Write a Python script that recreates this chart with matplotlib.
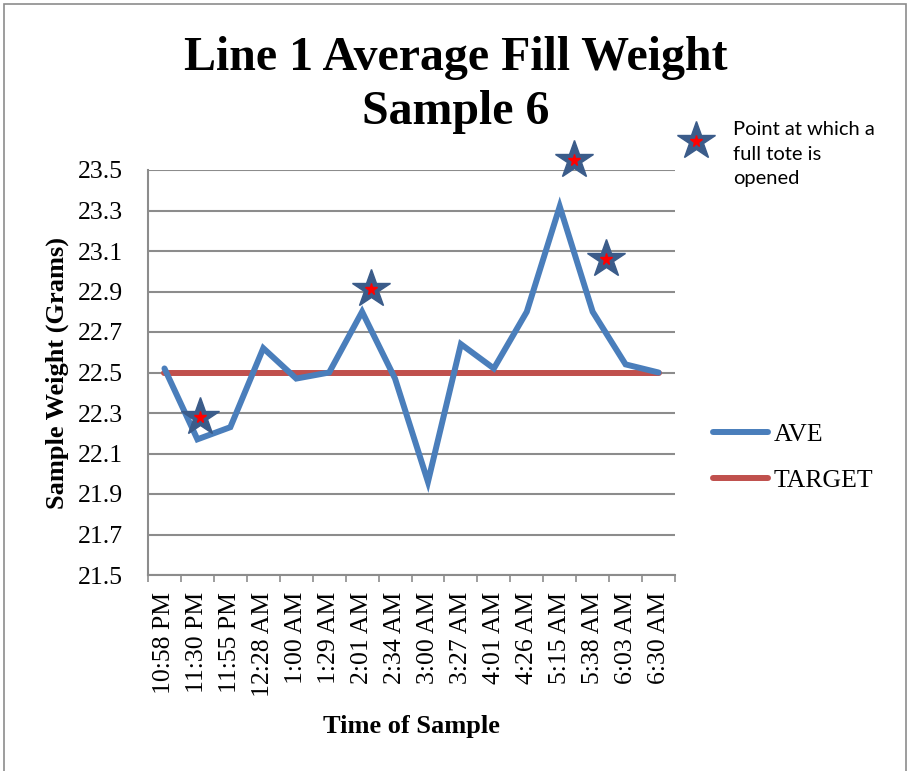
import matplotlib
matplotlib.use("Agg")
import matplotlib.pyplot as plt
from matplotlib.lines import Line2D
from matplotlib.patches import Rectangle

# ---- data ----
times = ["10:58 PM", "11:30 PM", "11:55 PM", "12:28 AM", "1:00 AM", "1:29 AM",
         "2:01 AM", "2:34 AM", "3:00 AM", "3:27 AM", "4:01 AM", "4:26 AM",
         "5:15 AM", "5:38 AM", "6:03 AM", "6:30 AM"]
ave = [22.52, 22.17, 22.23, 22.62, 22.47, 22.50, 22.80, 22.47, 21.96, 22.64,
       22.52, 22.80, 23.32, 22.80, 22.54, 22.50]
target = [22.5] * 16
# stars marking points at which a full tote is opened (category position, weight)
star_pos = [1.08, 6.26, 12.42, 13.39]
star_val = [22.28, 22.91, 23.55, 23.06]
y_ticks = [21.5, 21.7, 21.9, 22.1, 22.3, 22.5, 22.7, 22.9, 23.1, 23.3, 23.5]

W, H = 908, 771
fig = plt.figure(figsize=(W / 100, H / 100), dpi=100)
serif = ["Liberation Serif", "DejaVu Serif"]

# outer chart border
fig.add_artist(Rectangle((4 / W, -0.01), (906 - 4) / W, 1 - 4 / H + 0.01,
                         transform=fig.transFigure, fill=False,
                         edgecolor="#8c8c8c", linewidth=1.2))

ax = fig.add_axes([148 / W, (H - 575) / H, (675 - 148) / W, (575 - 170) / H])
x = list(range(len(times)))

ax.plot(x, ave, color="#4A7EBB", linewidth=4.3, solid_capstyle="round",
        solid_joinstyle="miter", label="AVE", zorder=3)
ax.plot(x, target, color="#C0504D", linewidth=4.3, solid_capstyle="round",
        label="TARGET", zorder=2)

ax.set_xlim(-0.5, len(times) - 0.5)
ax.set_ylim(21.5, 23.5)
ax.set_yticks(y_ticks)
ax.set_yticklabels([f"{v:.1f}" for v in y_ticks], fontsize=18.5, family=serif)
ax.set_xticks(x)
ax.set_xticklabels(times, rotation=90, fontsize=18.5, family=serif, va="top")
ax.set_xticks([i - 0.5 for i in range(len(times) + 1)], minor=True)
ax.tick_params(axis="x", which="major", length=0, pad=12)
ax.tick_params(axis="x", which="minor", length=5, width=1.2, color="#8c8c8c")
ax.tick_params(axis="y", length=0, pad=18)
ax.grid(axis="y", color="#8c8c8c", linewidth=1.5)
ax.set_axisbelow(True)
for s in ["top", "right"]:
    ax.spines[s].set_visible(False)
for s in ["left", "bottom"]:
    ax.spines[s].set_color("#8c8c8c")
    ax.spines[s].set_linewidth(1.5)

# stars
ax.plot(star_pos, star_val, ls="none", marker="*", markersize=29,
        color="#3B5C8A", clip_on=False, zorder=5)
ax.plot(star_pos, star_val, ls="none", marker="*", markersize=8.5,
        color="#FF0000", clip_on=False, zorder=6)

# key star + note
fig.add_artist(Line2D([696 / W], [1 - 140.5 / H], transform=fig.transFigure,
                      ls="none", marker="*", markersize=29, color="#3B5C8A"))
fig.add_artist(Line2D([696 / W], [1 - 140.5 / H], transform=fig.transFigure,
                      ls="none", marker="*", markersize=8.5, color="#FF0000"))
fig.text(733 / W, 1 - 121 / H, "Point at which a\nfull tote is\nopened",
         family=["Lato", "DejaVu Sans"], fontsize=14.5, va="top", ha="left",
         linespacing=1.55)

# title and axis titles
fig.text(456 / W, 1 - 36 / H, "Line 1 Average Fill Weight\nSample 6",
         family=serif, fontsize=34.5, fontweight="bold", ha="center", va="top",
         linespacing=1.3)
fig.text(57.5 / W, 1 - 372.5 / H, "Sample Weight (Grams)", family=serif,
         fontsize=19, fontweight="bold", rotation=90, ha="center", va="center")
fig.text(411 / W, 1 - 733 / H, "Time of Sample", family=serif, fontsize=19,
         fontweight="bold", ha="center", va="baseline")

# legend
fig.legend(handles=ax.get_lines()[:2], loc="upper left",
           bbox_to_anchor=(713 / W, 1 - 423 / H), frameon=False,
           prop={"family": serif, "size": 18.5}, handlelength=2.15,
           handletextpad=0.2, labelspacing=0.9, borderpad=0, borderaxespad=0)

fig.savefig("out.png", dpi=100)
